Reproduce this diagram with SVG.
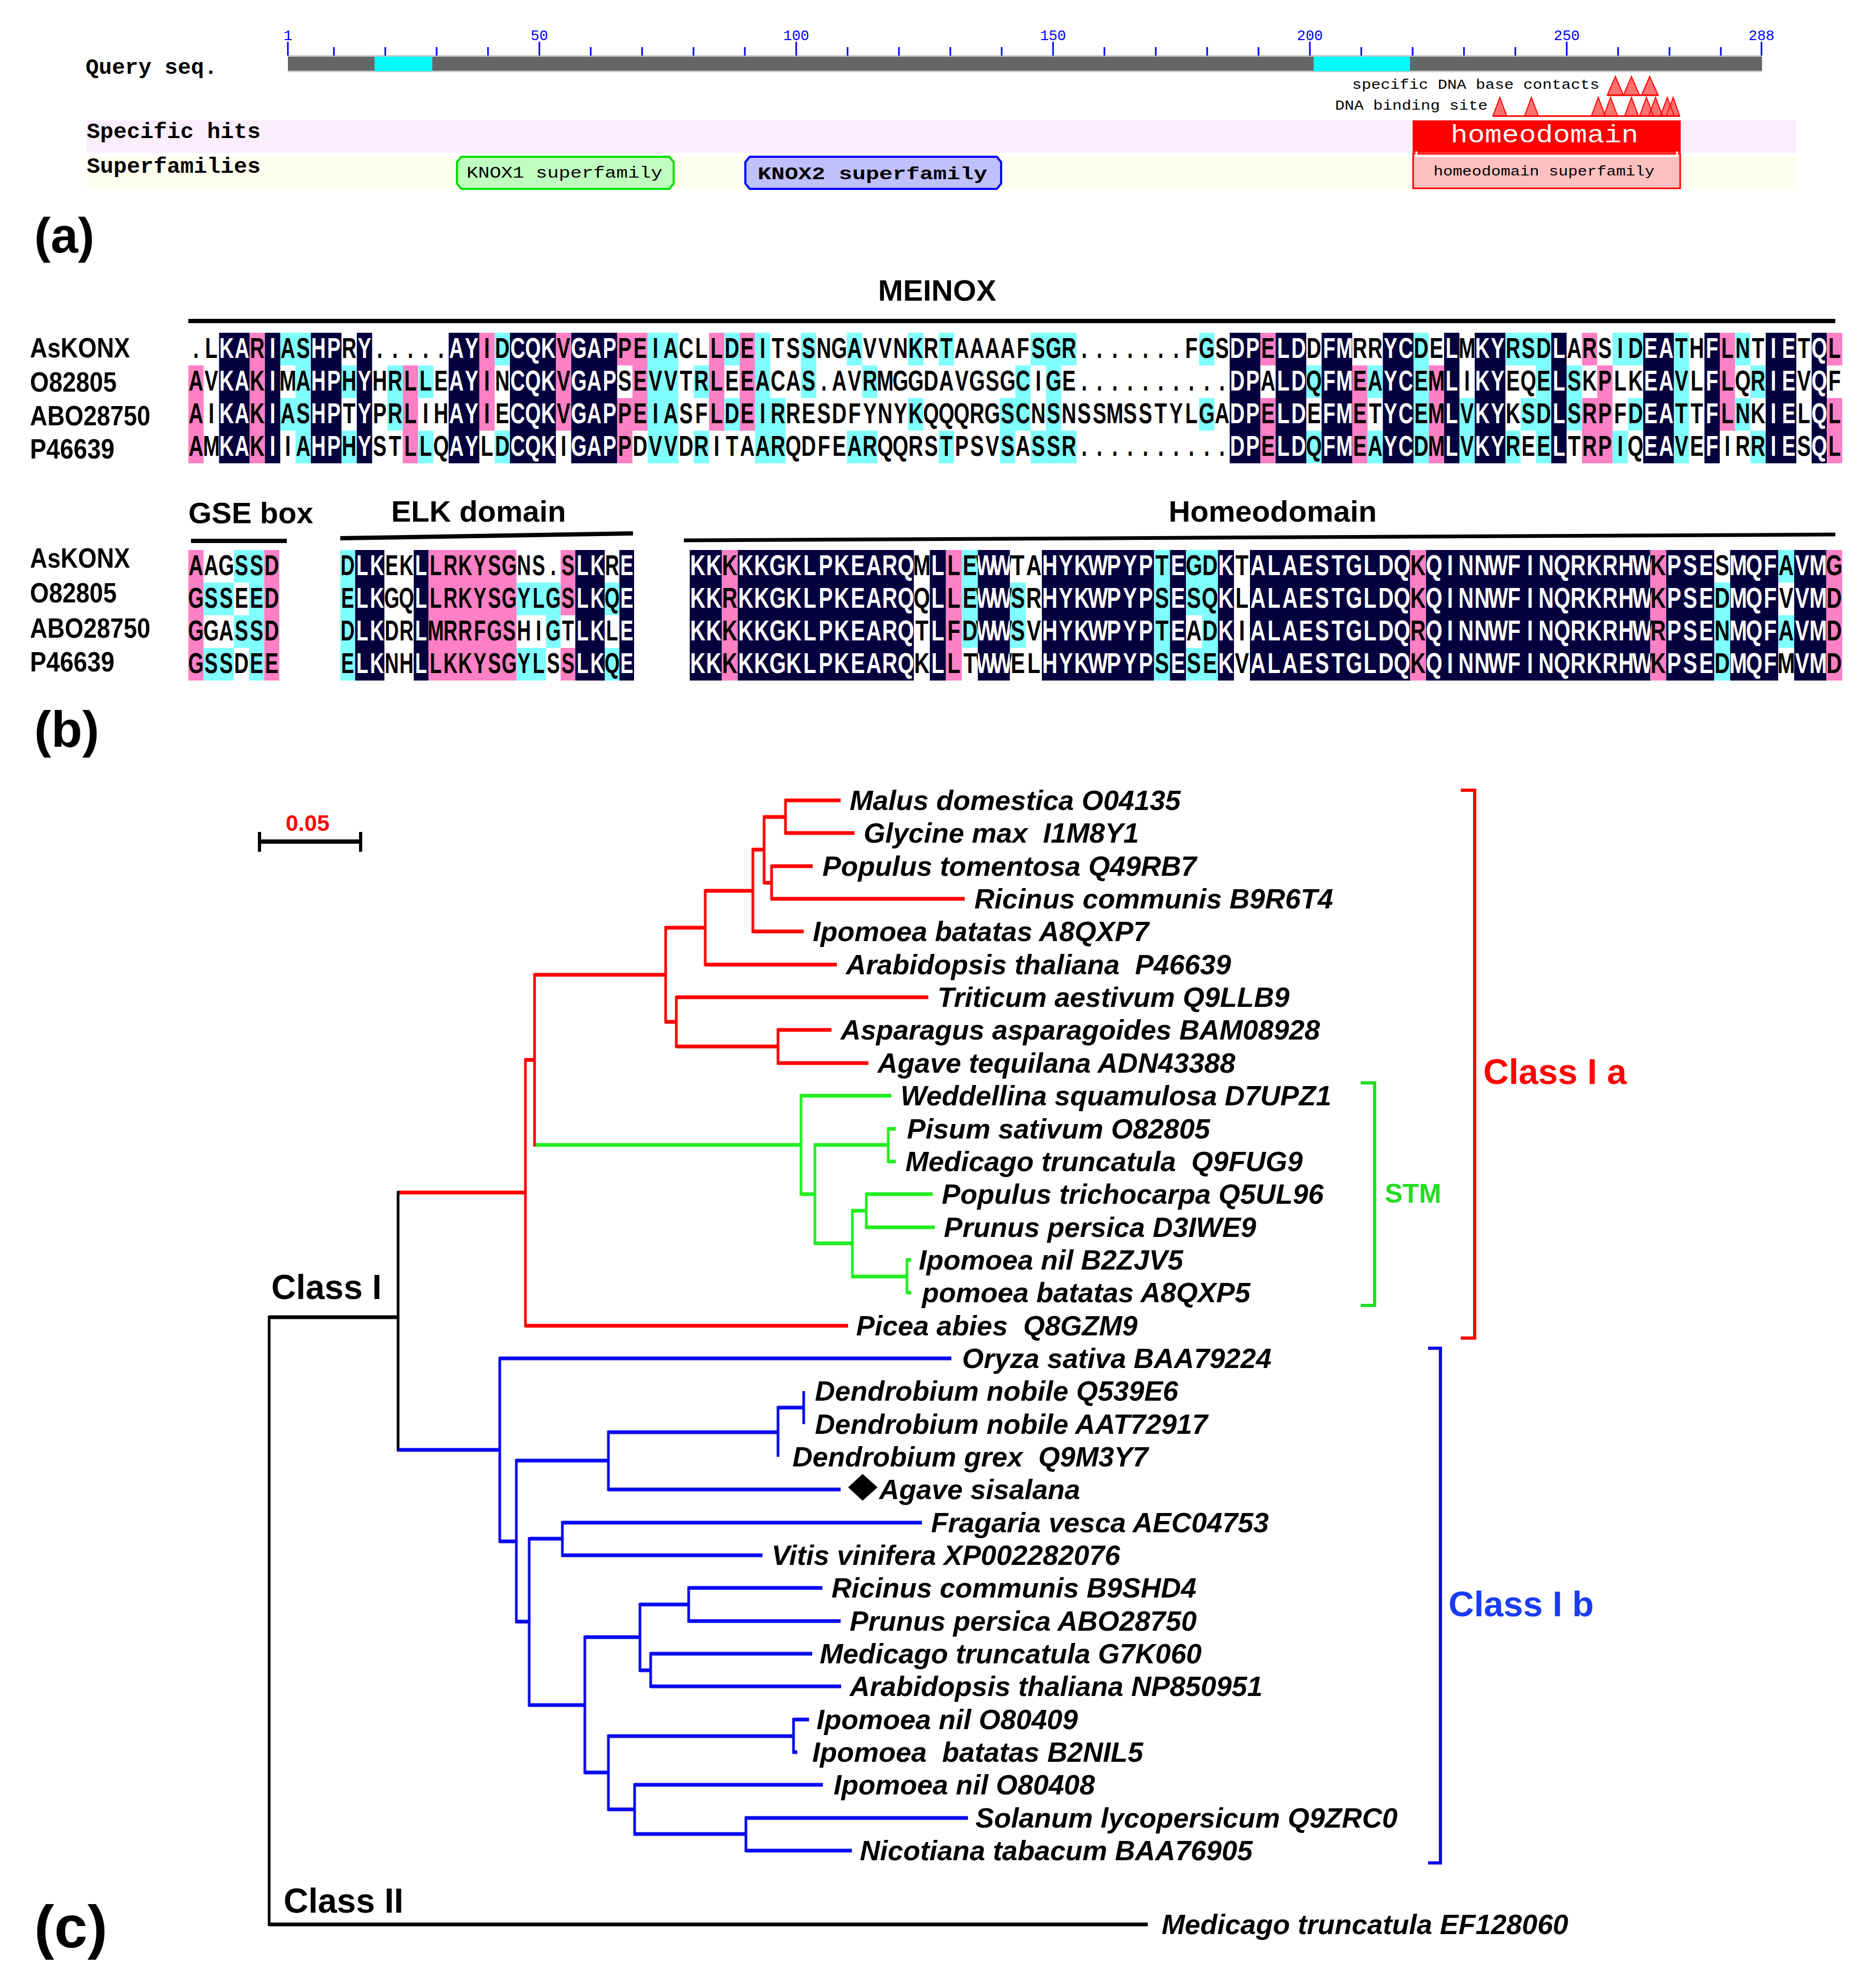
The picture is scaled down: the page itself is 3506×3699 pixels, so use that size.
<svg xmlns="http://www.w3.org/2000/svg" width="3506" height="3699" viewBox="0 0 3506 3699">
<style>
.mono{font-family:"Liberation Mono","DejaVu Sans Mono",monospace}
.seq{font-family:"Liberation Sans",Arial,sans-serif;font-weight:bold;font-size:53px;text-anchor:middle}
.lab{font-family:"Liberation Sans",Arial,sans-serif;font-weight:bold;font-size:52px;fill:#000}
.ttl{font-family:"Liberation Sans",Arial,sans-serif;font-weight:bold;font-size:56px;fill:#000}
.big{font-family:"Liberation Sans",Arial,sans-serif;font-weight:bold}
.p{fill:#FF80C4}
.c{fill:#80FFFF}
.n{fill:#04003E}
.leaf{font-family:"Liberation Sans",Arial,sans-serif;font-weight:bold;font-style:italic;font-size:52px;fill:#000}
.h{fill:none;stroke-width:7}
.v{fill:none;stroke-width:5}
.tick{fill:#0000FF;font-size:27px;text-anchor:middle}
</style>
<defs>
<clipPath id="cpM"><path d="M100 622h100v244h-100z M250 622h50v244h-50z M400 622h100v244h-100z M550 622h50v244h-50z M850 622h100v244h-100z M1050 622h150v244h-150z M1250 622h150v244h-150z M3400 622h100v244h-100z M3550 622h100v244h-100z M3700 622h100v244h-100z M3900 622h100v244h-100z M4100 622h50v244h-50z M4200 622h100v244h-100z M4450 622h50v244h-50z M4750 622h100v244h-100z M4950 622h50v244h-50z M5150 622h100v244h-100z M5300 622h50v244h-50z"/></clipPath>
<clipPath id="cpE"><path d="M50 1028h100v244h-100z M250 1028h50v244h-50z M800 1028h100v244h-100z M950 1028h50v244h-50z"/></clipPath>
<clipPath id="cpH"><path d="M0 1028h100v244h-100z M150 1028h550v244h-550z M750 1028h50v244h-50z M900 1028h100v244h-100z M1100 1028h350v244h-350z M1500 1028h50v244h-50z M1650 1028h50v244h-50z M1750 1028h500v244h-500z M2300 1028h700v244h-700z M3050 1028h150v244h-150z M3250 1028h150v244h-150z M3450 1028h100v244h-100z"/></clipPath>
</defs>
<rect width="3506" height="3699" fill="#fff"/>

<!-- (a) -->
<g id="query">
<text class="mono" x="160" y="138" font-size="40" font-weight="bold" textLength="246" lengthAdjust="spacingAndGlyphs">Query seq.</text>
<rect x="538" y="103" width="2755" height="32" fill="#666"/>
<path d="M538 104.5H3293 M538 133.5H3293" stroke="#C8C8C8" stroke-width="3"/>
<rect x="700" y="106" width="108" height="27" fill="#00FFFF"/>
<rect x="2455" y="106" width="180" height="27" fill="#00FFFF"/>
<path d="M538 78V104 M1008 78V104 M1488 78V104 M1968 78V104 M2448 78V104 M2928 78V104 M3292 78V104 M624 88V104 M720 88V104 M816 88V104 M912 88V104 M1104 88V104 M1200 88V104 M1296 88V104 M1392 88V104 M1584 88V104 M1680 88V104 M1776 88V104 M1872 88V104 M2064 88V104 M2160 88V104 M2256 88V104 M2352 88V104 M2544 88V104 M2640 88V104 M2736 88V104 M2832 88V104 M3024 88V104 M3120 88V104 M3216 88V104" stroke="#0000FF" stroke-width="3"/>
<g class="mono tick">
<text x="538" y="75">1</text><text x="1008" y="75">50</text><text x="1488" y="75">100</text><text x="1968" y="75">150</text><text x="2448" y="75">200</text><text x="2928" y="75">250</text><text x="3292" y="75">288</text>
</g>
<text class="mono" x="2527" y="166" font-size="26" textLength="462" lengthAdjust="spacingAndGlyphs">specific DNA base contacts</text>
<path d="M3004 178L3019 143L3034 178Z M3034 178L3049 143L3064 178Z M3068 178L3083 143L3099 178Z" fill="#FF7070" stroke="#FF0000" stroke-width="2"/>
<path d="M3004 178H3099" stroke="#FF0000" stroke-width="3"/>
<text class="mono" x="2495" y="205" font-size="26" textLength="285" lengthAdjust="spacingAndGlyphs">DNA binding site</text>
<path d="M2790 217L2803 182L2816 217Z M2849 217L2862 182L2875 217Z M2974 217L2987 182L3000 217Z M2997 217L3010 182L3023 217Z M3036 217L3049 182L3062 217Z M3064 217L3077 182L3090 217Z M3081 217L3094 182L3107 217Z M3103 217L3116 182L3129 217Z M3114 217L3127 182L3139 217Z" fill="#FF7070" stroke="#FF0000" stroke-width="2"/>
<path d="M2791 217H3139" stroke="#FF0000" stroke-width="3"/>
</g>
<g id="specific-hits">
<rect x="162" y="225" width="3195" height="61" fill="#FDEEFC"/>
<text class="mono" x="162" y="258" font-size="40" font-weight="bold" textLength="325" lengthAdjust="spacingAndGlyphs">Specific hits</text>
<rect x="2640" y="225" width="501" height="60" fill="#FF0000"/>
<text class="mono" x="2711" y="266" font-size="46" fill="#fff" textLength="351" lengthAdjust="spacingAndGlyphs">homeodomain</text>
</g>
<g id="superfamilies">
<rect x="162" y="293" width="3195" height="60" fill="#FEFEEE"/>
<text class="mono" x="162" y="323" font-size="40" font-weight="bold" textLength="325" lengthAdjust="spacingAndGlyphs">Superfamilies</text>
<path d="M862 293H1251L1259 303V343L1251 353H862L854 343V303Z" fill="#C0FFC0" stroke="#00E000" stroke-width="4"/>
<text class="mono" x="872" y="332" font-size="30" textLength="366" lengthAdjust="spacingAndGlyphs">KNOX1 superfamily</text>
<path d="M1401 293H1863L1871 303V343L1863 353H1401L1393 343V303Z" fill="#C0C0FF" stroke="#0000FF" stroke-width="4"/>
<text class="mono" x="1416" y="335" font-size="34" font-weight="bold" textLength="429" lengthAdjust="spacingAndGlyphs">KNOX2 superfamily</text>
<rect x="2641" y="287" width="499" height="65" fill="#FFC0C0" stroke="#FF0000" stroke-width="3"/>
<path d="M2647 283V292H3134V283" fill="none" stroke="#fff" stroke-width="3"/>
<text class="mono" x="2679" y="328" font-size="25" textLength="413" lengthAdjust="spacingAndGlyphs">homeodomain superfamily</text>
</g>
<text class="big" x="64" y="472" font-size="92">(a)</text>

<!-- (b) -->
<g id="alignment-titles">
<text class="ttl" x="1641" y="562">MEINOX</text>
<path d="M352 600H3430" stroke="#000" stroke-width="8"/>
<text class="ttl" x="352" y="978">GSE box</text>
<path d="M357 1011H536" stroke="#000" stroke-width="8"/>
<text class="ttl" x="731" y="975">ELK domain</text>
<path d="M636 1006L1183 997" stroke="#000" stroke-width="8"/>
<text class="ttl" x="2184" y="975">Homeodomain</text>
<path d="M1278 1010L3430 999" stroke="#000" stroke-width="7"/>
</g>
<g id="row-labels">
<text class="lab" x="56" y="668" textLength="187" lengthAdjust="spacingAndGlyphs">AsKONX</text>
<text class="lab" x="56" y="732" textLength="162" lengthAdjust="spacingAndGlyphs">O82805</text>
<text class="lab" x="56" y="795" textLength="225" lengthAdjust="spacingAndGlyphs">ABO28750</text>
<text class="lab" x="56" y="857" textLength="158" lengthAdjust="spacingAndGlyphs">P46639</text>
<text class="lab" x="56" y="1061" textLength="187" lengthAdjust="spacingAndGlyphs">AsKONX</text>
<text class="lab" x="56" y="1126" textLength="162" lengthAdjust="spacingAndGlyphs">O82805</text>
<text class="lab" x="56" y="1192" textLength="225" lengthAdjust="spacingAndGlyphs">ABO28750</text>
<text class="lab" x="56" y="1255" textLength="158" lengthAdjust="spacingAndGlyphs">P46639</text>
</g>

<g id="meinox" transform="translate(352 0) scale(0.5724 1)">
<path class="p" d="M0 683h50v183h-50z M200 622h50v244h-50z M700 683h50v183h-50z M950 622h50v183h-50z M1200 622h50v183h-50z M1400 622h50v61h-50z M1400 744h50v122h-50z M1450 622h50v183h-50z M1700 622h50v183h-50z M1800 622h50v183h-50z M3500 622h50v61h-50z M3500 744h50v122h-50z M3800 683h50v183h-50z M4050 683h50v183h-50z M4550 622h50v61h-50z M4550 744h50v122h-50z M4600 683h50v183h-50z M5000 622h50v183h-50z M5350 622h50v61h-50z M5350 744h50v122h-50z"/>
<path class="c" d="M300 622h50v61h-50z M300 744h50v61h-50z M350 622h50v244h-50z M500 683h50v61h-50z M500 805h50v61h-50z M650 683h50v122h-50z M750 683h50v61h-50z M750 805h50v61h-50z M1000 622h50v61h-50z M1000 805h50v61h-50z M1500 622h100v244h-100z M1650 683h50v61h-50z M1650 805h50v61h-50z M1750 622h50v61h-50z M1750 744h50v61h-50z M1850 622h50v244h-50z M1900 744h50v122h-50z M2000 622h50v122h-50z M2150 622h50v61h-50z M2150 805h100v61h-100z M2200 683h50v61h-50z M2350 622h50v61h-50z M2350 744h50v61h-50z M2450 622h50v61h-50z M2450 805h50v61h-50z M2650 744h50v122h-50z M2700 683h50v122h-50z M2750 622h50v61h-50z M2750 805h50v61h-50z M2800 622h50v244h-50z M2850 622h50v61h-50z M2850 805h50v61h-50z M3300 622h50v61h-50z M3300 744h50v61h-50z M3650 683h50v61h-50z M3650 805h50v61h-50z M3850 683h50v61h-50z M3850 805h50v61h-50z M4000 622h50v244h-50z M4150 744h50v122h-50z M4300 622h50v61h-50z M4300 805h50v61h-50z M4350 622h50v61h-50z M4350 744h50v61h-50z M4400 622h50v244h-50z M4500 683h50v122h-50z M4650 622h50v61h-50z M4650 805h50v61h-50z M4700 622h50v61h-50z M4700 744h50v61h-50z M4850 622h50v244h-50z M5050 622h50v61h-50z M5050 744h50v61h-50z M5100 683h50v61h-50z M5100 805h50v61h-50z"/>
<rect class="n" x="0" y="622" width="5400" height="244" clip-path="url(#cpM)"/>
<g fill="#000"><g id="txM" transform="scale(1.25 1)">
<text class="seq" y="669" x="20 60 100 140 180 220 260 300 340 380 420 460 500 540 580 620 660 700 740 780 820 860 900 940 980 1020 1060 1100 1140 1180 1220 1260 1300 1340 1380 1420 1460 1500 1540 1580 1620 1660 1700 1740 1780 1820 1860 1900 1940 1980 2020 2060 2100 2140 2180 2220 2260 2300 2340 2380 2420 2460 2500 2540 2580 2620 2660 2700 2740 2780 2820 2860 2900 2940 2980 3020 3060 3100 3140 3180 3220 3260 3300 3340 3380 3420 3460 3500 3540 3580 3620 3660 3700 3740 3780 3820 3860 3900 3940 3980 4020 4060 4100 4140 4180 4220 4260 4300">.LKARIASHPRY.....AYIDCQKVGAPPEIACLLDEITSSNGAVVNKRTAAAAFSGR.......FGSDPELDDFMRRYCDELMKYRSDLARSIDEATHFLNTIETQL</text>
<text class="seq" y="730" x="20 60 100 140 180 220 260 300 340 380 420 460 500 540 580 620 660 700 740 780 820 860 900 940 980 1020 1060 1100 1140 1180 1220 1260 1300 1340 1380 1420 1460 1500 1540 1580 1620 1660 1700 1740 1780 1820 1860 1900 1940 1980 2020 2060 2100 2140 2180 2220 2260 2300 2340 2380 2420 2460 2500 2540 2580 2620 2660 2700 2740 2780 2820 2860 2900 2940 2980 3020 3060 3100 3140 3180 3220 3260 3300 3340 3380 3420 3460 3500 3540 3580 3620 3660 3700 3740 3780 3820 3860 3900 3940 3980 4020 4060 4100 4140 4180 4220 4260 4300">AVKAKIMAHPHYHRLLEAYINCQKVGAPSEVVTRLEEACAS.AVRMGGDAVGSGCIGE..........DPALDQFMEAYCEMLIKYEQELSKPLKEAVLFLQRIEVQF</text>
<text class="seq" y="791" x="20 60 100 140 180 220 260 300 340 380 420 460 500 540 580 620 660 700 740 780 820 860 900 940 980 1020 1060 1100 1140 1180 1220 1260 1300 1340 1380 1420 1460 1500 1540 1580 1620 1660 1700 1740 1780 1820 1860 1900 1940 1980 2020 2060 2100 2140 2180 2220 2260 2300 2340 2380 2420 2460 2500 2540 2580 2620 2660 2700 2740 2780 2820 2860 2900 2940 2980 3020 3060 3100 3140 3180 3220 3260 3300 3340 3380 3420 3460 3500 3540 3580 3620 3660 3700 3740 3780 3820 3860 3900 3940 3980 4020 4060 4100 4140 4180 4220 4260 4300">AIKAKIASHPTYPRLIHAYIECQKVGAPPEIASFLDEIRRESDFYNYKQQQRGSCNSNSSMSSTYLGADPELDEFMETYCEMLVKYKSDLSRPFDEATTFLNKIELQL</text>
<text class="seq" y="852" x="20 60 100 140 180 220 260 300 340 380 420 460 500 540 580 620 660 700 740 780 820 860 900 940 980 1020 1060 1100 1140 1180 1220 1260 1300 1340 1380 1420 1460 1500 1540 1580 1620 1660 1700 1740 1780 1820 1860 1900 1940 1980 2020 2060 2100 2140 2180 2220 2260 2300 2340 2380 2420 2460 2500 2540 2580 2620 2660 2700 2740 2780 2820 2860 2900 2940 2980 3020 3060 3100 3140 3180 3220 3260 3300 3340 3380 3420 3460 3500 3540 3580 3620 3660 3700 3740 3780 3820 3860 3900 3940 3980 4020 4060 4100 4140 4180 4220 4260 4300">AMKAKIIAHPHYSTLLQAYLDCQKIGAPPDVVDRITAARQDFEARQQRSTPSVSASSR..........DPELDQFMEAYCDMLVKYREELTRPIQEAVEFIRRIESQL</text>
</g></g>
<use href="#txM" fill="#fff" clip-path="url(#cpM)"/>
</g>

<g id="gse" transform="translate(352 0) scale(0.5667 1)">
<path class="p" d="M0 1028h50v244h-50z M250 1028h50v244h-50z"/>
<path class="c" d="M50 1089h100v61h-100z M50 1211h100v61h-100z M150 1028h50v61h-50z M150 1150h50v61h-50z M200 1028h50v244h-50z"/>
<g fill="#000" transform="scale(1.25 1)">
<text class="seq" y="1075" x="20 60 100 140 180 220">AAGSSD</text>
<text class="seq" y="1136" x="20 60 100 140 180 220">GSSEED</text>
<text class="seq" y="1197" x="20 60 100 140 180 220">GGASSD</text>
<text class="seq" y="1258" x="20 60 100 140 180 220">GSSDEE</text>
</g>
</g>

<g id="elk" transform="translate(636 0) scale(0.549 1)">
<path class="c" d="M0 1028h50v244h-50z M600 1089h100v61h-100z M600 1211h100v61h-100z M700 1089h50v122h-50z M900 1089h50v61h-50z M900 1211h50v61h-50z"/>
<path class="p" d="M300 1028h300v244h-300z M750 1028h50v122h-50z M750 1211h50v61h-50z"/>
<rect class="n" x="0" y="1028" width="1000" height="244" clip-path="url(#cpE)"/>
<g fill="#000"><g id="txE" transform="scale(1.25 1)">
<text class="seq" y="1075" x="20 60 100 140 180 220 260 300 340 380 420 460 500 540 580 620 660 700 740 780">DLKEKLLRKYSGNS.SLKRE</text>
<text class="seq" y="1136" x="20 60 100 140 180 220 260 300 340 380 420 460 500 540 580 620 660 700 740 780">ELKGQLLRKYSGYLGSLKQE</text>
<text class="seq" y="1197" x="20 60 100 140 180 220 260 300 340 380 420 460 500 540 580 620 660 700 740 780">DLKDRLMRRFGSHIGTLKLE</text>
<text class="seq" y="1258" x="20 60 100 140 180 220 260 300 340 380 420 460 500 540 580 620 660 700 740 780">ELKNHLLKKYSGYLSSLKQE</text>
</g></g>
<use href="#txE" fill="#fff" clip-path="url(#cpE)"/>
</g>

<g id="homeodomain" transform="translate(1289 0) scale(0.5983 1)">
<path class="p" d="M100 1028h50v244h-50z M800 1028h50v244h-50z M2250 1028h50v244h-50z M3000 1028h50v244h-50z M3550 1028h50v244h-50z"/>
<path class="c" d="M850 1028h50v183h-50z M1000 1089h50v122h-50z M1450 1028h50v244h-50z M1550 1028h50v122h-50z M1550 1211h50v61h-50z M1600 1028h50v244h-50z M3200 1089h50v183h-50z M3400 1028h50v61h-50z M3400 1150h50v61h-50z"/>
<rect class="n" x="0" y="1028" width="3600" height="244" clip-path="url(#cpH)"/>
<g fill="#000"><g id="txH" transform="scale(1.25 1)">
<text class="seq" y="1075" x="20 60 100 140 180 220 260 300 340 380 420 460 500 540 580 620 660 700 740 780 820 860 900 940 980 1020 1060 1100 1140 1180 1220 1260 1300 1340 1380 1420 1460 1500 1540 1580 1620 1660 1700 1740 1780 1820 1860 1900 1940 1980 2020 2060 2100 2140 2180 2220 2260 2300 2340 2380 2420 2460 2500 2540 2580 2620 2660 2700 2740 2780 2820 2860">KKKKKGKLPKEARQMLLEWWTAHYKWPYPTEGDKTALAESTGLDQKQINNWFINQRKRHWKPSESMQFAVMG</text>
<text class="seq" y="1136" x="20 60 100 140 180 220 260 300 340 380 420 460 500 540 580 620 660 700 740 780 820 860 900 940 980 1020 1060 1100 1140 1180 1220 1260 1300 1340 1380 1420 1460 1500 1540 1580 1620 1660 1700 1740 1780 1820 1860 1900 1940 1980 2020 2060 2100 2140 2180 2220 2260 2300 2340 2380 2420 2460 2500 2540 2580 2620 2660 2700 2740 2780 2820 2860">KKRKKGKLPKEARQQLLEWWSRHYKWPYPSESQKLALAESTGLDQKQINNWFINQRKRHWKPSEDMQFVVMD</text>
<text class="seq" y="1197" x="20 60 100 140 180 220 260 300 340 380 420 460 500 540 580 620 660 700 740 780 820 860 900 940 980 1020 1060 1100 1140 1180 1220 1260 1300 1340 1380 1420 1460 1500 1540 1580 1620 1660 1700 1740 1780 1820 1860 1900 1940 1980 2020 2060 2100 2140 2180 2220 2260 2300 2340 2380 2420 2460 2500 2540 2580 2620 2660 2700 2740 2780 2820 2860">KKKKKGKLPKEARQTLFDWWSVHYKWPYPTEADKIALAESTGLDQRQINNWFINQRKRHWRPSENMQFAVMD</text>
<text class="seq" y="1258" x="20 60 100 140 180 220 260 300 340 380 420 460 500 540 580 620 660 700 740 780 820 860 900 940 980 1020 1060 1100 1140 1180 1220 1260 1300 1340 1380 1420 1460 1500 1540 1580 1620 1660 1700 1740 1780 1820 1860 1900 1940 1980 2020 2060 2100 2140 2180 2220 2260 2300 2340 2380 2420 2460 2500 2540 2580 2620 2660 2700 2740 2780 2820 2860">KKKKKGKLPKEARQKLLTWWELHYKWPYPSESEKVALAESTGLDQKQINNWFINQRKRHWKPSEDMQFMVMD</text>
</g></g>
<use href="#txH" fill="#fff" clip-path="url(#cpH)"/>
</g>
<text class="big" x="64" y="1396" font-size="95">(b)</text>

<!-- (c) tree -->
<g id="scale-bar">
<path d="M485 1573H674" stroke="#000" stroke-width="8"/>
<path d="M485 1555V1592 M674 1555V1592" stroke="#000" stroke-width="6"/>
<text class="big" x="534" y="1553" font-size="42" fill="#FF0000">0.05</text>
</g>
<g id="connectors">
<path class="h" stroke="#FF0000" d="M1468 1496H1571 M1468 1557H1597 M1428 1527H1468 M1442 1619H1519 M1442 1680H1803 M1428 1650H1442 M1407 1588H1428 M1407 1741H1502 M1318 1665H1407 M1318 1803H1564 M1244 1734H1318 M1264 1864H1735 M1454 1925H1554 M1454 1987H1623 M1264 1956H1454 M1244 1910H1264 M999 1822H1244 M982 1981H999 M982 2478H1585 M744 2229H982"/>
<path class="v" stroke="#FF0000" d="M1468 1493V1560 M1442 1616V1683 M1428 1524V1653 M1407 1585V1744 M1318 1662V1806 M1264 1861V1959 M1454 1922V1990 M1244 1731V1913 M999 1819V2143 M982 1978V2481"/>
<path class="h" stroke="#22EE22" d="M1497 2048H1666 M1660 2110H1674 M1660 2171H1674 M1523 2140H1660 M1619 2232H1743 M1619 2294H1747 M1593 2263H1619 M1695 2355H1703 M1695 2416H1703 M1593 2386H1695 M1523 2324H1593 M1497 2232H1523 M1001 2140H1497"/>
<path class="v" stroke="#22EE22" d="M1660 2107V2174 M1619 2229V2297 M1695 2352V2419 M1593 2260V2389 M1523 2137V2327 M1497 2045V2235"/>
<path class="h" stroke="#000" d="M503 2462H744 M503 3597H2145"/>
<path class="v" stroke="#000" d="M744 2226V2713 M503 2459V3600"/>
<path class="h" stroke="#0A0AF0" d="M934 2539H1778 M1454 2631H1502 M1137 2677H1454 M1137 2784H1571 M965 2730H1137 M1051 2846H1723 M1051 2907H1425 M989 2876H1051 M1287 2968H1537 M1287 3030H1571 M1196 2999H1287 M1216 3091H1518 M1216 3152H1572 M1196 3122H1216 M1093 3060H1196 M1483 3214H1512 M1483 3275H1490 M1137 3245H1483 M1186 3336H1538 M1394 3398H1809 M1394 3459H1592 M1186 3428H1394 M1137 3382H1186 M1093 3313H1137 M989 3187H1093 M965 3031H989 M934 2881H965 M744 2710H934"/>
<path class="v" stroke="#0A0AF0" d="M1502 2600V2662 M1454 2628V2723 M1137 2674V2787 M1051 2843V2910 M1287 2965V3033 M1216 3088V3155 M1196 2996V3125 M1483 3211V3278 M1394 3395V3462 M1186 3333V3431 M1137 3242V3385 M1093 3057V3316 M989 2873V3190 M965 2727V3034 M934 2536V2884"/>
</g>
<g id="brackets">
<path d="M2730 1477H2756V2501H2730" fill="none" stroke="#FF0000" stroke-width="6"/>
<path d="M2543 2024H2569V2440H2543" fill="none" stroke="#22DD22" stroke-width="6"/>
<path d="M2669 2520H2692V3482H2669" fill="none" stroke="#0A0AF0" stroke-width="6"/>
<text class="big" x="2772" y="2026" font-size="66" fill="#FF0000">Class I a</text>
<text class="big" x="2588" y="2248" font-size="50" fill="#22DD22">STM</text>
<text class="big" x="2707" y="3021" font-size="66" fill="#1A3CF5">Class I b</text>
</g>
<g id="class-labels">
<text class="big" x="507" y="2428" font-size="64">Class I</text>
<text class="big" x="530" y="3575" font-size="64">Class II</text>
</g>
<g id="leaf-1"><text class="leaf" x="1588" y="1514">Malus domestica O04135</text></g>
<g id="leaf-2"><text class="leaf" x="1614" y="1575">Glycine max &#160;I1M8Y1</text></g>
<g id="leaf-3"><text class="leaf" x="1537" y="1637">Populus tomentosa Q49RB7</text></g>
<g id="leaf-4"><text class="leaf" x="1821" y="1698">Ricinus communis B9R6T4</text></g>
<g id="leaf-5"><text class="leaf" x="1519" y="1759">Ipomoea batatas A8QXP7</text></g>
<g id="leaf-6"><text class="leaf" x="1581" y="1821">Arabidopsis thaliana &#160;P46639</text></g>
<g id="leaf-7"><text class="leaf" x="1752" y="1882">Triticum aestivum Q9LLB9</text></g>
<g id="leaf-8"><text class="leaf" x="1571" y="1943">Asparagus asparagoides BAM08928</text></g>
<g id="leaf-9"><text class="leaf" x="1640" y="2005">Agave tequilana ADN43388</text></g>
<g id="leaf-10"><text class="leaf" x="1683" y="2066">Weddellina squamulosa D7UPZ1</text></g>
<g id="leaf-11"><text class="leaf" x="1695" y="2128">Pisum sativum O82805</text></g>
<g id="leaf-12"><text class="leaf" x="1692" y="2189">Medicago truncatula &#160;Q9FUG9</text></g>
<g id="leaf-13"><text class="leaf" x="1760" y="2250">Populus trichocarpa Q5UL96</text></g>
<g id="leaf-14"><text class="leaf" x="1764" y="2312">Prunus persica D3IWE9</text></g>
<g id="leaf-15"><text class="leaf" x="1717" y="2373">Ipomoea nil B2ZJV5</text></g>
<g id="leaf-16"><text class="leaf" x="1723" y="2434">pomoea batatas A8QXP5</text></g>
<g id="leaf-17"><text class="leaf" x="1600" y="2496">Picea abies &#160;Q8GZM9</text></g>
<g id="leaf-18"><text class="leaf" x="1798" y="2557">Oryza sativa BAA79224</text></g>
<g id="leaf-19"><text class="leaf" x="1523" y="2618">Dendrobium nobile Q539E6</text></g>
<g id="leaf-20"><text class="leaf" x="1523" y="2680">Dendrobium nobile AAT72917</text></g>
<g id="leaf-21"><text class="leaf" x="1481" y="2741">Dendrobium grex &#160;Q9M3Y7</text></g>
<g id="leaf-22"><path d="M1612 2755L1640 2780L1612 2805L1585 2780Z" fill="#000"/><text class="leaf" x="1643" y="2802">Agave sisalana</text></g>
<g id="leaf-23"><text class="leaf" x="1740" y="2864">Fragaria vesca AEC04753</text></g>
<g id="leaf-24"><text class="leaf" x="1442" y="2925">Vitis vinifera XP002282076</text></g>
<g id="leaf-25"><text class="leaf" x="1554" y="2986">Ricinus communis B9SHD4</text></g>
<g id="leaf-26"><text class="leaf" x="1588" y="3048">Prunus persica ABO28750</text></g>
<g id="leaf-27"><text class="leaf" x="1532" y="3109">Medicago truncatula G7K060</text></g>
<g id="leaf-28"><text class="leaf" x="1588" y="3170">Arabidopsis thaliana NP850951</text></g>
<g id="leaf-29"><text class="leaf" x="1526" y="3232">Ipomoea nil O80409</text></g>
<g id="leaf-30"><text class="leaf" x="1518" y="3293">Ipomoea &#160;batatas B2NIL5</text></g>
<g id="leaf-31"><text class="leaf" x="1558" y="3354">Ipomoea nil O80408</text></g>
<g id="leaf-32"><text class="leaf" x="1823" y="3416">Solanum lycopersicum Q9ZRC0</text></g>
<g id="leaf-33"><text class="leaf" x="1607" y="3477">Nicotiana tabacum BAA76905</text></g>
<g id="leaf-34"><text class="leaf" x="2171" y="3615">Medicago truncatula EF128060</text></g>
<text class="big" x="64" y="3640" font-size="112">(c)</text>
</svg>
